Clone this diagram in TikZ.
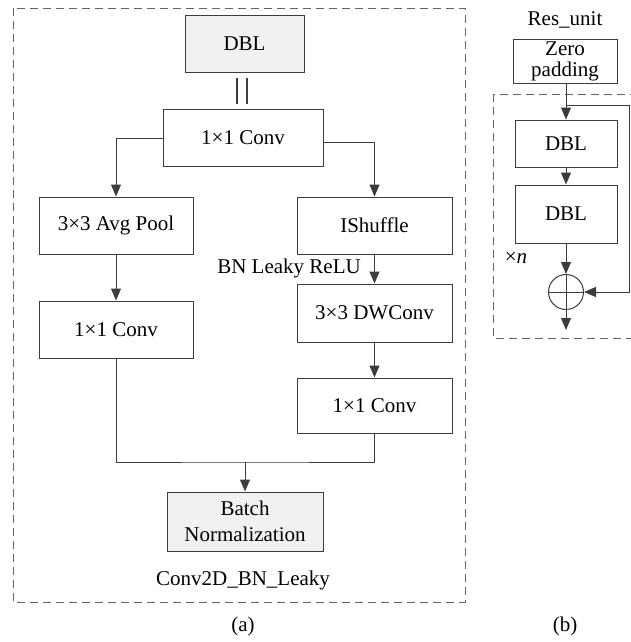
\documentclass[tikz,border=0pt]{standalone}
\usepackage{fontspec}
\setmainfont{Liberation Serif}
\usetikzlibrary{arrows.meta}
\definecolor{ln}{HTML}{3C3C3C}
\definecolor{fillg}{HTML}{F1F1F1}
\tikzset{
  box/.style={draw=ln, line width=1pt, inner sep=0pt, align=center, font=\fontsize{21}{22}\selectfont, text=black},
  gbox/.style={box, fill=fillg},
  conn/.style={draw=ln, line width=1pt},
  arr/.style={conn, -{Triangle[length=12pt,width=10pt]}},
  dashbox/.style={draw=ln!80, line width=0.9pt, dash pattern=on 8pt off 5pt},
  lbl/.style={inner sep=0pt, font=\fontsize{21}{22}\selectfont, text=black},
}
\begin{document}
\begin{tikzpicture}[x=1pt,y=-1pt]
\useasboundingbox (0,0) rectangle (630,642);
% panel (a)
\draw[dashbox] (13,8) rectangle (465,602);
\node[gbox, minimum width=119pt, minimum height=56pt] (dbl) at (244.5,44) {DBL};
\node[box, minimum width=160pt, minimum height=57pt] (c1) at (243,137.5) {1×1 Conv};
\coordinate (dl1) at (237,78); \coordinate (dl1b) at (237,104);
\coordinate (dl2) at (247,78); \coordinate (dl2b) at (247,104);
\draw[conn, line width=1.8pt] (dl1) -- (dl1b);
\draw[conn, line width=1.8pt] (dl2) -- (dl2b);
\node[box, minimum width=154pt, minimum height=57pt] (avg) at (116,225.5) {3×3 Avg Pool};
\node[box, minimum width=154pt, minimum height=57pt] (lc) at (116,329.5) {1×1 Conv};
\node[box, minimum width=155pt, minimum height=57pt] (ish) at (374.5,225.5) {IShuffle};
\node[box, minimum width=155pt, minimum height=58pt] (dw) at (374.5,313) {3×3 DWConv};
\node[box, minimum width=155pt, minimum height=55pt] (rc) at (374.5,405.5) {1×1 Conv};
\node[lbl] (bnl) at (289,268) {BN Leaky ReLU};
\node[gbox, minimum width=156pt, minimum height=59pt, font=\fontsize{21}{26}\selectfont] (bn) at (245,521.5) {Batch\\Normalization};
\node[lbl] (title) at (243,580) {Conv2D\_BN\_Leaky};
\node[lbl] (capa) at (243,626) {(a)};
\draw[arr] (c1.west |- 0,138) -| (avg.north);
\draw[arr] (c1.east |- 0,142) -| (ish.north);
\draw[arr] (avg) -- (lc);
\draw[arr] (ish) -- (dw);
\draw[arr] (dw) -- (rc);
\coordinate (jn) at (245,462);
\draw[conn] (lc.south) |- (jn) -| (rc.south);
\draw[arr] (jn) -- (bn.north);
% panel (b)
\node[lbl] (res) at (565,20) {Res\_unit};
\node[box, minimum width=104pt, minimum height=43pt, font=\fontsize{21}{21}\selectfont] (zp) at (565,61.5) {Zero\\padding};
\draw[dashbox] (493,94) rectangle (640,338);
\node[box, minimum width=102pt, minimum height=47pt] (d1) at (566,143.5) {DBL};
\node[box, minimum width=102pt, minimum height=58pt] (d2) at (566,214) {DBL};
\node[draw=ln, line width=1pt, circle, minimum size=35pt, inner sep=0pt] (add) at (566,292) {};
\draw[conn] (add.north) -- (add.south);
\draw[conn] (add.west) -- (add.east);
\node[lbl] (xn) at (516,258) {×\textit{n}};
\node[lbl] (capb) at (565,626) {(b)};
\coordinate (br) at (566,105);
\coordinate (rt) at (629,105);
\coordinate (out) at (566,330);
\draw[conn] (zp.south -| br) -- (br);
\draw[arr] (br) -- (d1.north);
\draw[arr] (d1) -- (d2);
\draw[arr] (d2) -- (add.north);
\draw[arr] (br) -- (rt) |- (add.east);
\draw[arr] (add.south) -- (out);
\end{tikzpicture}
\end{document}
